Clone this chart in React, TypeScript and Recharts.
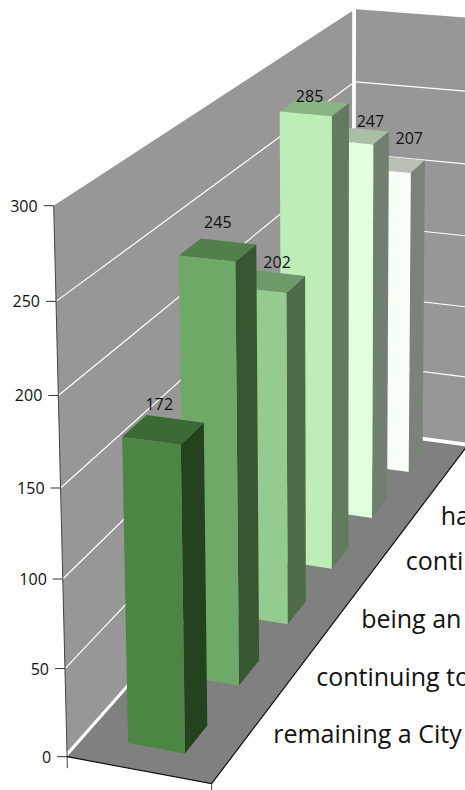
import React from 'react';
import { ComposedChart, Bar, XAxis, YAxis, LabelList } from 'recharts';

// Bars are listed from the back of the floor to the front.
const categories = ['', 'ha', 'conti', 'being an', 'continuing to', 'remaining a City'];
const values = [207, 247, 285, 202, 245, 172];
const yTicks = [0, 50, 100, 150, 200, 250, 300];
const frontColors = ['#f8fff6', '#e0ffdd', '#bdeeb8', '#93cc8e', '#6fa968', '#4c8544'];
const sideColors = ['#7b827a', '#70806e', '#627b5f', '#4f6b4a', '#385632', '#25421f'];
const topColors = ['#b8c0b6', '#a8bfa6', '#8ab386', '#6e9a69', '#527f4c', '#3c6a36'];
const valueNudges = [[15, -6], [14, 5], [-5, 9], [8, 1], [0, -8], [-4, -6]];
const categoryNudges = [[0, 0], [3, 4], [6, -1], [3, 2], [4, -1], [12, -11]];

const WIDTH = 465;
const HEIGHT = 790;
const Y_MAX = 300;
const AXIS_SIZE = 1;
const PLOT_W = WIDTH - AXIS_SIZE;
const PLOT_H = HEIGHT - AXIS_SIZE;
const BAR_U = [0.3, 0.7];
const FONT = '"Open Sans", sans-serif';

const table = categories.map((name, i) => ({ name, value: values[i] }));

type Vec3 = [number, number, number];

// Reference points of the chart box: (across, height, depth) and where they land on the page.
const anchors: [Vec3, [number, number]][] = [
  [[0, 0, 0], [66, 757]],
  [[1, 0, 0], [213, 783]],
  [[0, 0, 1], [355, 430]],
  [[1, 0, 1], [466, 448]],
  [[0, 1, 0], [54, 206]],
  [[0, 1, 1], [355, 10]],
  [[0, 0.5, 0], [60, 488]],
  [[1, 1, 1], [472, 17]],
  [[1, 0.5, 1], [469, 236]],
];

// Least-squares fit of a perspective camera through the reference points.
function fitCamera(): number[] {
  const rows: number[][] = [];
  const rhs: number[] = [];
  for (const [[u, v, w], [x, y]] of anchors) {
    rows.push([1, u, v, w, 0, 0, 0, 0, -x * u, -x * v, -x * w]);
    rhs.push(x);
    rows.push([0, 0, 0, 0, 1, u, v, w, -y * u, -y * v, -y * w]);
    rhs.push(y);
  }
  const n = 11;
  const m: number[][] = [];
  for (let i = 0; i < n; i++) {
    const line = new Array(n + 1).fill(0);
    rows.forEach((r, k) => {
      for (let j = 0; j < n; j++) line[j] += r[i] * r[j];
      line[n] += r[i] * rhs[k];
    });
    m.push(line);
  }
  for (let c = 0; c < n; c++) {
    let p = c;
    for (let r = c + 1; r < n; r++) if (Math.abs(m[r][c]) > Math.abs(m[p][c])) p = r;
    [m[c], m[p]] = [m[p], m[c]];
    for (let r = 0; r < n; r++) {
      if (r === c) continue;
      const f = m[r][c] / m[c][c];
      for (let j = c; j <= n; j++) m[r][j] -= f * m[c][j];
    }
  }
  return m.map((line, i) => line[n] / line[i]);
}

const cam = fitCamera();

function project(u: number, v: number, w: number): [number, number] {
  const d = 1 + cam[8] * u + cam[9] * v + cam[10] * w;
  return [
    (cam[0] + cam[1] * u + cam[2] * v + cam[3] * w) / d,
    (cam[4] + cam[5] * u + cam[6] * v + cam[7] * w) / d,
  ];
}

const poly = (pts: Vec3[]) =>
  pts.map((p) => project(p[0], p[1], p[2]).map((n) => n.toFixed(1)).join(',')).join(' ');

const pixelToHeight = (y: number) => (PLOT_H - y) / PLOT_H;
const pixelToDepth = (x: number) => (x - AXIS_SIZE) / PLOT_W;

function Box() {
  const wallFloor = 0.009;
  const gridLines = yTicks.slice(1, -1).map((t) => t / Y_MAX);
  return (
    <g>
      <polygon points={poly([[0, 0, 0], [1, 0, 0], [1, 0, 1], [0, 0, 1]])} fill="#808080" />
      <polygon points={poly([[0, wallFloor, 0], [0, 1, 0], [0, 1, 0.988], [0, wallFloor, 0.988]])} fill="#979797" />
      <polygon points={poly([[0.01, wallFloor, 1], [0.01, 1, 1], [1, 1, 1], [1, wallFloor, 1]])} fill="#979797" />
      {gridLines.map((v) => {
        const a = project(0, v, 0);
        const b = project(0, v, 0.988);
        const c = project(0.01, v, 1);
        const d = project(1, v, 1);
        return (
          <g key={v} stroke="#ffffff" strokeWidth={1.2}>
            <line x1={a[0]} y1={a[1]} x2={b[0]} y2={b[1]} />
            <line x1={c[0]} y1={c[1]} x2={d[0]} y2={d[1]} />
          </g>
        );
      })}
      <polyline points={poly([[0, -0.022, 0], [0, 0, 0], [0, 1, 0]])} fill="none" stroke="#444444" strokeWidth={1} />
      <polyline points={poly([[0, 0, 0], [1, 0, 0], [1, 0, 1]])} fill="none" stroke="#111111" strokeWidth={1.2} />
      <polyline points={poly([[1, 0, 0], [1, -0.02, 0]])} fill="none" stroke="#444444" strokeWidth={1} />
    </g>
  );
}

function Bar3D(props: any) {
  const { x, y, width, index } = props;
  const [u0, u1] = BAR_U;
  // The reversed axis hands out negative widths.
  const w0 = pixelToDepth(Math.min(x, x + width));
  const w1 = pixelToDepth(Math.max(x, x + width));
  const v = pixelToHeight(y);
  return (
    <g>
      <polygon points={poly([[u0, v, w0], [u1, v, w0], [u1, v, w1], [u0, v, w1]])} fill={topColors[index]} />
      <polygon points={poly([[u1, 0, w0], [u1, 0, w1], [u1, v, w1], [u1, v, w0]])} fill={sideColors[index]} />
      <polygon points={poly([[u0, 0, w0], [u1, 0, w0], [u1, v, w0], [u0, v, w0]])} fill={frontColors[index]} />
    </g>
  );
}

function ValueLabel(props: any) {
  const { x, y, width, value, index } = props;
  const [u0, u1] = BAR_U;
  const w = pixelToDepth(x + width / 2);
  const [px, py] = project((u0 + u1) / 2, pixelToHeight(y), w);
  const [nx, ny] = valueNudges[index];
  return (
    <text x={px + nx} y={py - 14 + ny} textAnchor="middle" fontFamily={FONT} fontSize={16} fill="#111111">
      {value}
    </text>
  );
}

function ValueTick(props: any) {
  const { y, payload } = props;
  const [px, py] = project(0, pixelToHeight(y), 0);
  return (
    <g>
      <line x1={px - 10} y1={py} x2={px} y2={py} stroke="#333333" strokeWidth={1} />
      <text x={px - 16} y={py + 6} textAnchor="end" fontFamily={FONT} fontSize={16} fill="#111111">
        {payload.value}
      </text>
    </g>
  );
}

function CategoryTick(props: any) {
  const { x, payload, index } = props;
  const [px, py] = project(1, 0, pixelToDepth(x));
  const [nx, ny] = categoryNudges[index];
  return (
    <text x={px + 22 + nx} y={py + 7 + ny} textAnchor="start" fontFamily={FONT} fontSize={25} fill="#111111">
      {payload.value}
    </text>
  );
}

export default function App() {
  return (
    <div style={{ position: 'absolute', left: 0, top: 0 }}>
      <ComposedChart width={WIDTH} height={HEIGHT} data={table} margin={{ top: 0, right: 0, bottom: 0, left: 0 }} barCategoryGap="30%">
        <Box />
        <XAxis dataKey="name" reversed height={AXIS_SIZE} interval={0} axisLine={false} tickLine={false} tick={<CategoryTick />} />
        <YAxis domain={[0, Y_MAX]} ticks={yTicks} width={AXIS_SIZE} interval={0} axisLine={false} tickLine={false} tick={<ValueTick />} />
        <Bar dataKey="value" shape={<Bar3D />} isAnimationActive={false}>
          <LabelList dataKey="value" content={<ValueLabel />} />
        </Bar>
      </ComposedChart>
    </div>
  );
}
